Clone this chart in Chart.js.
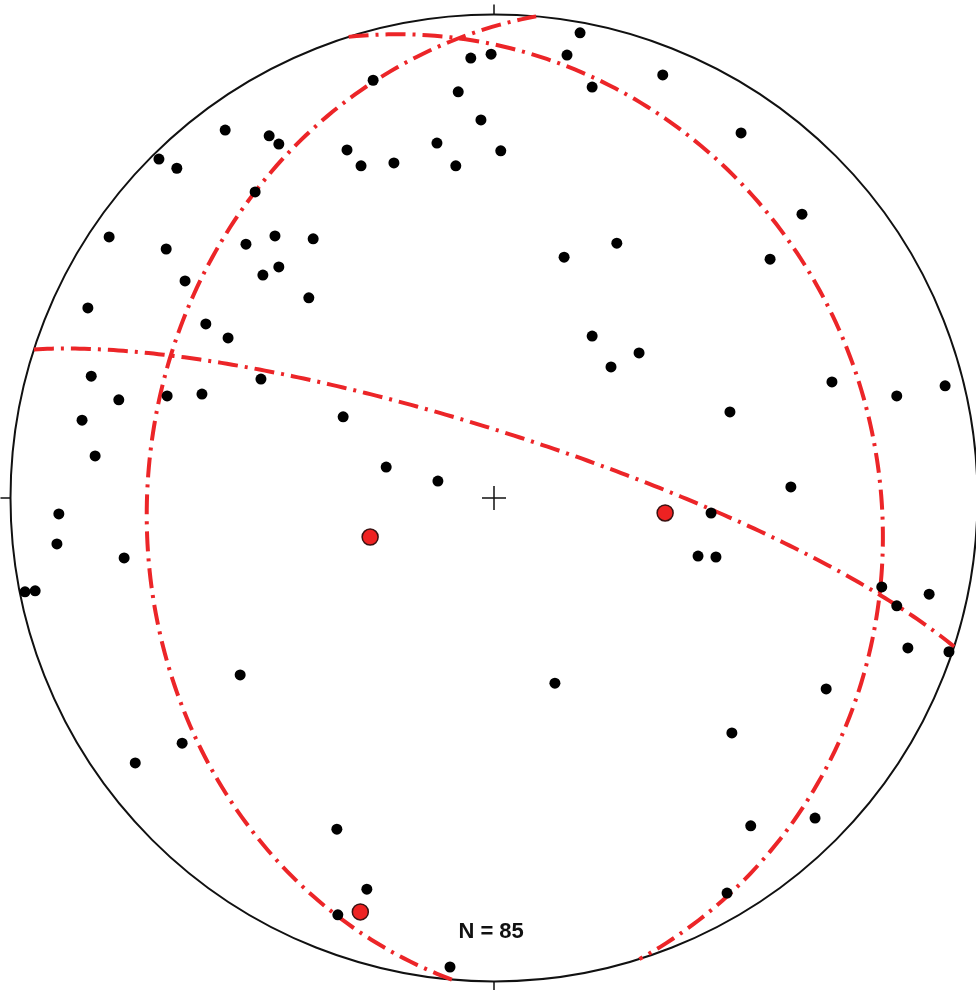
<!DOCTYPE html>
<html>
<head>
<meta charset="utf-8">
<title>Stereonet</title>
<script src="https://cdn.jsdelivr.net/npm/chart.js@4/dist/chart.umd.min.js"></script>
<style>
  html, body { margin: 0; padding: 0; background: #fff; }
  canvas { display: block; }
</style>
</head>
<body>
<canvas id="net" width="976" height="990"></canvas>
<script>
'use strict';

// ── Data: poles, equal-area coords (primitive radius = 1, x = E, y = N) ──
const poleX = [
   0.178, -0.048, -0.006,  0.151, -0.250,  0.203,  0.349, -0.074, -0.027, -0.556,
  -0.465, -0.445,  0.511, -0.304, -0.118,  0.014, -0.275, -0.207, -0.079, -0.693,
  -0.656, -0.494, -0.796, -0.678, -0.513, -0.453, -0.374,  0.637,  0.254,  0.145,
   0.571, -0.639, -0.478, -0.445, -0.383, -0.840, -0.596, -0.550,  0.203,  0.300,
   0.242, -0.833, -0.482, -0.776, -0.676, -0.604,  0.699,  0.833,  0.933, -0.852,
  -0.312,  0.488, -0.825, -0.223, -0.116,  0.614, -0.900, -0.904, -0.765, -0.970,
  -0.949,  0.449,  0.422,  0.459,  0.802,  0.833,  0.900,  0.856,  0.941, -0.525,
   0.126,  0.687, -0.645, -0.742,  0.492, -0.325,  0.531,  0.664, -0.263, -0.323,
   0.482, -0.091
];
const poleY = [
   0.962,  0.910,  0.918,  0.916,  0.864,  0.850,  0.875,  0.840,  0.782,  0.761,
   0.749,  0.732,  0.755,  0.720,  0.734,  0.718,  0.687,  0.693,  0.687,  0.701,
   0.682,  0.633,  0.540,  0.515,  0.525,  0.542,  0.536,  0.587,  0.527,  0.498,
   0.494,  0.449,  0.461,  0.478,  0.414,  0.393,  0.360,  0.331,  0.335,  0.300,
   0.271,  0.252,  0.246,  0.203,  0.211,  0.215,  0.240,  0.211,  0.232,  0.161,
   0.168,  0.178,  0.087,  0.064,  0.035,  0.023, -0.033, -0.095, -0.124, -0.194,
  -0.192, -0.031, -0.120, -0.122, -0.184, -0.223, -0.199, -0.310, -0.318, -0.366,
  -0.383, -0.395, -0.507, -0.548, -0.486, -0.685, -0.678, -0.662, -0.809, -0.862,
  -0.817, -0.970
];

// ── Data: planes (dip direction / dip, degrees) ──
const planeDipDir = [17.9, 275.0, 72.5];
const planeDip    = [79.0,  29.1, 21.9];

const countLabel = 'N = 85';

// ── Helpers ─────────────────────────────────────────────
const DEG = Math.PI / 180;

// Lambert equal-area, lower hemisphere
function project(trend, plunge) {
  const r = Math.SQRT2 * Math.sin((90 - plunge) / 2 * DEG);
  return { x: r * Math.sin(trend * DEG), y: r * Math.cos(trend * DEG) };
}

function greatCircle(dd, dip) {
  const st = (dd - 90) * DEG;
  const s = [Math.sin(st), Math.cos(st), 0];
  const v = [Math.sin(dd * DEG) * Math.cos(dip * DEG),
             Math.cos(dd * DEG) * Math.cos(dip * DEG),
             Math.sin(dip * DEG)];
  const pts = [];
  for (let a = 0; a <= 180; a += 1) {
    const c = Math.cos(a * DEG), k = Math.sin(a * DEG);
    const e = c * s[0] + k * v[0];
    const n = c * s[1] + k * v[1];
    const d = Math.min(1, c * s[2] + k * v[2]);
    pts.push(project(Math.atan2(e, n) / DEG, Math.asin(d) / DEG));
  }
  return pts;
}

const poles   = poleX.map((x, i) => ({ x, y: poleY[i] }));
const normals = planeDipDir.map((dd, i) => project((dd + 180) % 360, 90 - planeDip[i]));

// ── Net frame: primitive, ticks, centre cross, label ────
const netFrame = {
  id: 'netFrame',
  beforeDatasetsDraw(chart) {
    const { ctx, scales: { x, y } } = chart;
    const cx = x.getPixelForValue(0), cy = y.getPixelForValue(0);
    const R  = x.getPixelForValue(1) - cx;
    ctx.save();
    ctx.strokeStyle = '#111';
    ctx.lineWidth = 2;
    ctx.beginPath();
    ctx.arc(cx, cy, R, 0, Math.PI * 2);
    ctx.stroke();
    ctx.lineWidth = 1.5;
    ctx.beginPath();
    ctx.moveTo(cx, cy - R); ctx.lineTo(cx, cy - R - 10);
    ctx.moveTo(cx, cy + R); ctx.lineTo(cx, cy + R + 10);
    ctx.moveTo(cx - R, cy); ctx.lineTo(cx - R - 10, cy);
    ctx.moveTo(cx + R, cy); ctx.lineTo(cx + R + 10, cy);
    ctx.moveTo(cx - 12, cy); ctx.lineTo(cx + 12, cy);
    ctx.moveTo(cx, cy - 12); ctx.lineTo(cx, cy + 12);
    ctx.stroke();
    ctx.restore();
  },
  afterDatasetsDraw(chart) {
    const { ctx, scales: { x, y } } = chart;
    ctx.save();
    ctx.fillStyle = '#111';
    ctx.font = 'bold 22px "Liberation Sans", Arial, sans-serif';
    ctx.textAlign = 'center';
    ctx.textBaseline = 'middle';
    ctx.fillText(countLabel, x.getPixelForValue(-0.006), y.getPixelForValue(-0.897));
    ctx.restore();
  }
};

// ── Chart ───────────────────────────────────────────────
const red = '#ec2528';

const datasets = [
  ...planeDipDir.map((dd, i) => ({
    label: 'plane ' + (i + 1),
    data: greatCircle(dd, planeDip[i]),
    showLine: true,
    borderColor: red,
    borderWidth: 4,
    borderDash: [20, 7, 3, 7],
    pointRadius: 0,
    fill: false,
    order: 3
  })),
  {
    label: 'poles',
    data: poles,
    pointRadius: 5.5,
    pointBackgroundColor: '#000',
    pointBorderWidth: 0,
    order: 2
  },
  {
    label: 'plane normals',
    data: normals,
    pointRadius: 8,
    pointBackgroundColor: '#ee2222',
    pointBorderColor: '#3a1212',
    pointBorderWidth: 1.5,
    order: 1
  }
];

// canvas is 976x990, net centre at (494, 498), primitive radius 483.5 px
new Chart(document.getElementById('net'), {
  type: 'scatter',
  data: { datasets },
  options: {
    responsive: false,
    animation: false,
    devicePixelRatio: 1,
    layout: { padding: 0, autoPadding: false },
    plugins: { legend: { display: false }, tooltip: { enabled: false } },
    scales: {
      x: { type: 'linear', display: false, min: -494 / 483.5, max: 482 / 483.5 },
      y: { type: 'linear', display: false, min: -492 / 483.5, max: 498 / 483.5 }
    }
  },
  plugins: [netFrame]
});
</script>
</body>
</html>
